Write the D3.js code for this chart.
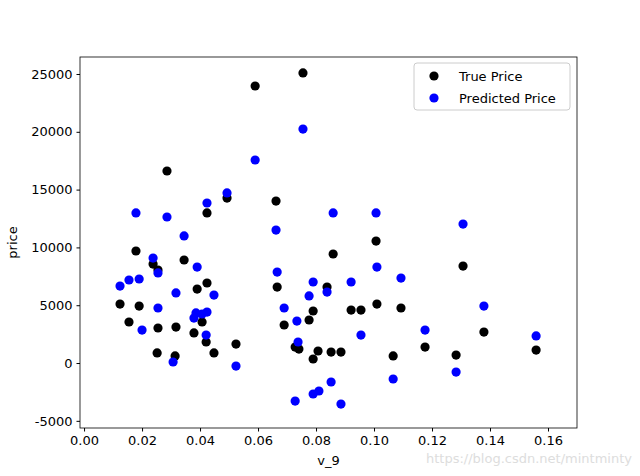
<!DOCTYPE html><html><head><meta charset="utf-8"><script src="https://cdn.jsdelivr.net/npm/d3@7"></script>
<style>body{margin:0;background:#fff}text{font-family:"DejaVu Sans",sans-serif}</style></head><body><svg id="c" width="640" height="476"></svg><script>
const trueX=[0.0286,0.0493,0.0662,0.0424,0.0179,0.0345,0.0238,0.0255,0.0424,0.0390,0.0666,0.0124,0.0190,0.0155,0.0255,0.0317,0.0407,0.0379,0.0421,0.0524,0.0252,0.0314,0.0448,0.1007,0.0859,0.1307,0.0838,0.0790,0.1010,0.0921,0.0955,0.1093,0.0690,0.0776,0.0728,0.0741,0.0807,0.0852,0.0886,0.0790,0.1176,0.1066,0.1283,0.0755,0.0590,0.1379,0.1559];
const trueY=[16610,14270,14010,12980,9690,8910,8560,8040,6920,6400,6570,5100,4930,3550,3030,3110,3550,2600,1820,1640,870,610,870,10550,9430,8390,6570,4500,5100,4580,4580,4760,3290,3720,1380,1210,1040,950,950,350,1380,610,690,25090,23960,2680,1120];
const predX=[0.0590,0.0493,0.0424,0.0179,0.0286,0.0345,0.0662,0.0238,0.0255,0.0390,0.0666,0.0155,0.0190,0.0124,0.0317,0.0448,0.0255,0.0379,0.0386,0.0424,0.0407,0.0200,0.0421,0.0307,0.0524,0.0859,0.1007,0.1307,0.1010,0.1093,0.0790,0.0921,0.0838,0.0776,0.0690,0.0734,0.0738,0.0955,0.1176,0.1066,0.1283,0.0852,0.0810,0.0790,0.0728,0.0886,0.0755,0.1379,0.1559];
const predY=[17560,14710,13840,12980,12630,10990,11500,9080,7790,8300,7870,7180,7270,6660,6060,5880,4760,3890,4330,4410,4240,2850,2420,90,-260,12980,12980,12020,8300,7350,7010,7010,6140,5800,4760,3630,1820,2420,2850,-1380,-780,-1640,-2420,-2680,-3290,-3550,20240,4930,2340];
const xTicks=[0,0.02,0.04,0.06,0.08,0.10,0.12,0.14,0.16];
const yTicks=[-5000,0,5000,10000,15000,20000,25000];
const seriesNames=["True Price","Predicted Price"];
const colors=["#000000","#0000ff"];

const svg=d3.select("#c");
const L=80,R=577,T=57,B=428;
const x=d3.scaleLinear().domain([-0.0014,0.17]).range([L,R]);
const y=d3.scaleLinear().domain([-5620,26470]).range([B,T]);
const g=svg.append("g");
const draw=(xs,ys,c)=>g.selectAll(null).data(xs.map((v,i)=>[v,ys[i]])).enter().append("circle")
 .attr("cx",d=>x(d[0])).attr("cy",d=>y(d[1])).attr("r",4.6).attr("fill",c);
draw(trueX,trueY,colors[0]);draw(predX,predY,colors[1]);
svg.append("rect").attr("x",L).attr("y",T).attr("width",R-L).attr("height",B-T).attr("fill","none").attr("stroke","#000").attr("stroke-width",0.8);
const ax=svg.append("g").attr("transform",`translate(0,${B})`).call(d3.axisBottom(x).tickValues(xTicks).tickFormat(d3.format(".2f")).tickSizeOuter(0).tickSize(3.5).tickPadding(4));
const ay=svg.append("g").attr("transform",`translate(${L},0)`).call(d3.axisLeft(y).tickValues(yTicks).tickFormat(d=>d).tickSizeOuter(0).tickSize(3.5).tickPadding(4));
[ax,ay].forEach(a=>{a.select(".domain").remove();a.selectAll("text").style("font-size","13px").style("font-family","DejaVu Sans").attr("fill","#000");a.selectAll("line").attr("stroke","#000");});
svg.append("text").attr("x",(L+R)/2).attr("y",465).attr("text-anchor","middle").style("font-size","13px").text("v_9");
svg.append("text").attr("transform",`translate(17,${(T+B)/2}) rotate(-90)`).attr("text-anchor","middle").style("font-size","13px").text("price");
const lg=svg.append("g");
lg.append("rect").attr("x",414).attr("y",63).attr("width",156).attr("height",47).attr("rx",3).attr("fill","#fff").attr("fill-opacity",0.8).attr("stroke","#ccc");
seriesNames.forEach((n,i)=>{lg.append("circle").attr("cx",434).attr("cy",76+i*22).attr("r",4.6).attr("fill",colors[i]);
lg.append("text").attr("x",459).attr("y",81+i*22).style("font-size","13px").text(n);});
svg.append("text").attr("x",632).attr("y",463).attr("text-anchor","end").style("font-size","13px").attr("fill","#ddd").text("https://blog.csdn.net/mintminty");
</script></body></html>
